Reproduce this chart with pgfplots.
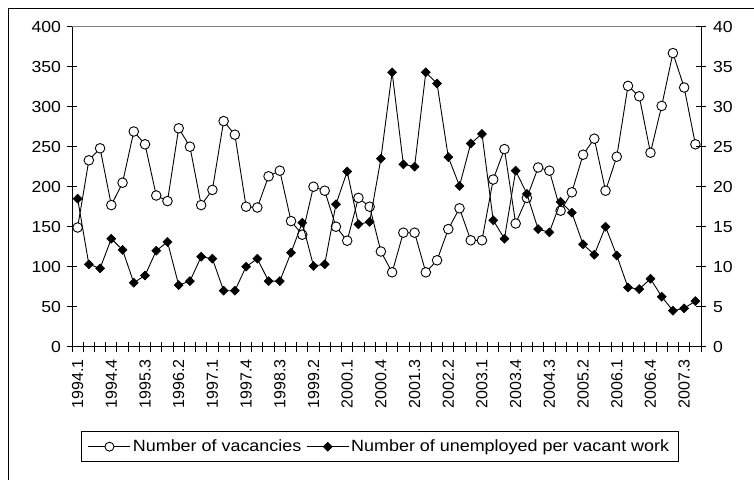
\documentclass[border=0pt]{standalone}
\usepackage{fontspec}
\setmainfont{Liberation Sans}[FakeStretch=1.1]
\newfontfamily\xfont{Liberation Sans}
\usepackage{pgfplots}
\pgfplotsset{compat=1.18}
\usepackage{pgfplotstable}
\pgfplotsset{
  legend image code/.code={\draw[mark repeat=2,mark phase=2,#1] plot coordinates {(0pt,0pt) (21pt,0pt) (42pt,0pt)};},
  myaxis/.style={
    at={(72pt,132.3pt)}, anchor=south west,
    scale only axis, width=629pt, height=320pt,
    xmin=-0.5, xmax=55.5,
    axis line style={line width=0.9pt,black,-},
    major tick length=0pt, minor tick length=10pt,
    tick align=center,
    tick style={line width=0.9pt,black},
    /pgf/number format/assume math mode=true,
    yticklabel style={font=\fontsize{16}{19}\selectfont},
  }
}
\pgfplotstableread{
idx vac unemp
0 149 18.5
1 233 10.3
2 248 9.8
3 177 13.5
4 205 12.1
5 269 8.0
6 253 8.9
7 189 12.0
8 182 13.1
9 273 7.7
10 250 8.2
11 177 11.25
12 196 11.0
13 282 7.0
14 265 7.0
15 175 10.0
16 174 11.0
17 213 8.2
18 220 8.2
19 157 11.75
20 140 15.5
21 200 10.1
22 195 10.3
23 150 17.8
24 132.5 21.9
25 186 15.3
26 175 15.6
27 119 23.5
28 93 34.3
29 142.5 22.8
30 142.5 22.5
31 93 34.3
32 108 32.9
33 147 23.7
34 173 20.1
35 133 25.4
36 133 26.6
37 209 15.8
38 247 13.5
39 154 22.0
40 186 19.1
41 224 14.7
42 220 14.3
43 170 18.1
44 193 16.75
45 240 12.8
46 260 11.5
47 195 15.0
48 237.5 11.4
49 326 7.4
50 313 7.2
51 242.5 8.5
52 301 6.25
53 367 4.5
54 324 4.8
55 253 5.7
}\datatable
\begin{document}
\begin{tikzpicture}[x=1pt,y=1pt]
\useasboundingbox (0,0) rectangle (754,479);
\draw[line width=1.3pt] (8.7,-5) -- (8.7,470.3) -- (760,470.3);
\begin{axis}[myaxis,
  ymin=0, ymax=400,
  axis x line*=bottom, axis y line*=left,
  xtick={0,3,...,54},
  xticklabels={1994.1,1994.4,1995.3,1996.2,1997.1,1997.4,1998.3,1999.2,2000.1,2000.4,2001.3,2002.2,2003.1,2003.4,2004.3,2005.2,2006.1,2006.4,2007.3},
  minor xtick={-0.5,0.5,...,55.5},
  xticklabel style={font=\xfont\fontsize{16}{19}\selectfont, rotate=90, anchor=east},
  xticklabel shift=9pt,
  ytick={0,50,...,400},
  minor ytick={0,50,...,400},
  yticklabel shift=7.5pt,
]
\addplot[black, line width=0.9pt, mark=*, mark size=4.8pt, mark options={fill=white, line width=0.9pt}] table[x=idx,y=vac]{\datatable};
\draw[gray, line width=0.9pt] (rel axis cs:0,1) -- (rel axis cs:1,1);
\end{axis}
\begin{axis}[myaxis,
  ymin=0, ymax=40,
  axis x line=none, axis y line*=right,
  ytick={0,5,...,40},
  minor ytick={0,5,...,40},
  yticklabel shift=8.5pt,
  legend columns=2,
  legend cell align=left,
  legend style={at={(0.489,-0.3125)}, anchor=center, draw=black, line width=0.8pt,
    inner xsep=7pt, inner ysep=6.5pt,
    font=\fontsize{16.3}{19}\selectfont,
    /tikz/every even column/.append style={column sep=3pt}},
]
\addlegendimage{black, line width=0.9pt, mark=*, mark size=4.5pt, mark options={fill=white, line width=0.9pt}}
\addlegendentry{Number of vacancies}
\addplot[black, line width=0.9pt, mark=square*, mark size=3.2pt, mark options={rotate=45, line width=0.5pt}] table[x=idx,y=unemp]{\datatable};
\addlegendentry{Number of unemployed per vacant work}
\end{axis}
\end{tikzpicture}
\end{document}
